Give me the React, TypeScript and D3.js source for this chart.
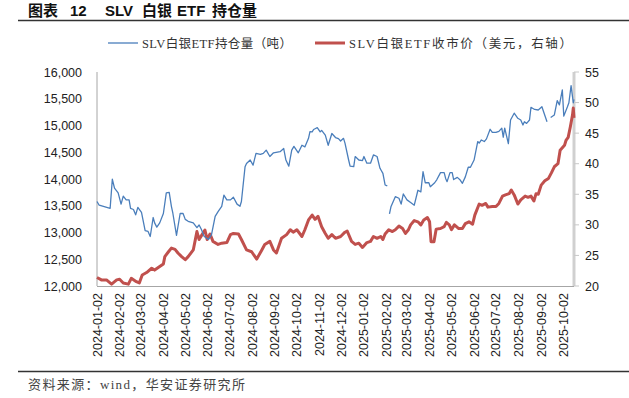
import React from "react";
import * as d3 from "d3";

const W = 629;
const H = 398;

// SLV holdings in tonnes (left axis); null = gap in the source data
const holdings: [string, number | null][] = [
  ["2024-01-02", 13580], ["2024-01-05", 13510], ["2024-01-20", 13450], ["2024-01-23", 13995],
  ["2024-01-26", 13830], ["2024-01-31", 13740], ["2024-02-04", 13530], ["2024-02-07", 13680],
  ["2024-02-11", 13610], ["2024-02-15", 13610], ["2024-02-17", 13450], ["2024-02-21", 13430],
  ["2024-02-24", 13330], ["2024-02-27", 13470], ["2024-03-03", 13375], ["2024-03-08", 13034],
  ["2024-03-12", 13020], ["2024-03-15", 12925], ["2024-03-19", 13280], ["2024-03-21", 13180],
  ["2024-03-24", 13100], ["2024-03-28", 13180], ["2024-04-02", 13355], ["2024-04-06", 13740],
  ["2024-04-10", 13750], ["2024-04-13", 13490], ["2024-04-15", 13360], ["2024-04-20", 12945],
  ["2024-04-25", 13355], ["2024-04-29", 13355], ["2024-05-02", 13245], ["2024-05-06", 13210],
  ["2024-05-13", 13180], ["2024-05-18", 13090], ["2024-05-21", 13140], ["2024-05-24", 13060],
  ["2024-05-28", 12925], ["2024-06-03", 12870], ["2024-06-07", 12960], ["2024-06-12", 13300],
  ["2024-06-16", 13390], ["2024-06-21", 13490], ["2024-06-24", 13700], ["2024-06-28", 13610],
  ["2024-07-03", 13610], ["2024-07-07", 13660], ["2024-07-12", 13530], ["2024-07-16", 13490],
  ["2024-07-18", 13580], ["2024-07-23", 14230], ["2024-07-25", 14290], ["2024-07-30", 14355],
  ["2024-08-03", 14260], ["2024-08-07", 14480], ["2024-08-13", 14460], ["2024-08-17", 14480],
  ["2024-08-21", 14540], ["2024-08-26", 14420], ["2024-08-31", 14490], ["2024-09-09", 14510],
  ["2024-09-14", 14570], ["2024-09-17", 14355], ["2024-09-21", 14240], ["2024-09-25", 14540],
  ["2024-09-28", 14610], ["2024-10-04", 14490], ["2024-10-09", 14630], ["2024-10-13", 14600],
  ["2024-10-18", 14760], ["2024-10-20", 14884], ["2024-10-23", 14880], ["2024-10-25", 14925],
  ["2024-10-27", 14940], ["2024-10-30", 14960], ["2024-11-03", 14880], ["2024-11-05", 14910],
  ["2024-11-10", 14820], ["2024-11-14", 14630], ["2024-11-19", 14850], ["2024-11-24", 14775],
  ["2024-11-28", 14755], ["2024-12-01", 14710], ["2024-12-05", 14760], ["2024-12-07", 14670],
  ["2024-12-12", 14355], ["2024-12-14", 14240], ["2024-12-19", 14230], ["2024-12-21", 14420],
  ["2024-12-26", 14355], ["2024-12-31", 14345], ["2025-01-02", 14420], ["2025-01-06", 14295],
  ["2025-01-11", 14295], ["2025-01-15", 14450], ["2025-01-20", 14420], ["2025-01-24", 14200],
  ["2025-01-28", 14105], ["2025-01-31", 13888], ["2025-02-03", 13870], ["2025-02-04", null],
  ["2025-02-06", 13346], ["2025-02-08", 13480], ["2025-02-14", 13670], ["2025-02-19", 13640],
  ["2025-02-22", 13530], ["2025-02-25", 13720], ["2025-03-02", 13610], ["2025-03-07", 13560],
  ["2025-03-12", 13510], ["2025-03-17", 13790], ["2025-03-21", 13760], ["2025-03-24", 14136],
  ["2025-03-27", 13930], ["2025-04-01", 13930], ["2025-04-03", 13855], ["2025-04-09", 13930],
  ["2025-04-12", 13990], ["2025-04-17", 14120], ["2025-04-22", 14120], ["2025-04-24", 14010],
  ["2025-04-26", 13950], ["2025-04-30", 14120], ["2025-05-03", 14120], ["2025-05-05", 13990],
  ["2025-05-10", 14030], ["2025-05-14", 13980], ["2025-05-17", 13920], ["2025-05-21", 14040],
  ["2025-05-25", 14220], ["2025-05-28", 14220], ["2025-06-02", 14355], ["2025-06-07", 14700],
  ["2025-06-09", 14670], ["2025-06-12", 14730], ["2025-06-16", 14700], ["2025-06-19", 14750],
  ["2025-06-24", 14930], ["2025-06-27", 14870], ["2025-07-02", 14870], ["2025-07-06", 14890],
  ["2025-07-10", 14950], ["2025-07-12", 14780], ["2025-07-14", 14950], ["2025-07-19", 14660],
  ["2025-07-22", 15103], ["2025-07-27", 15230], ["2025-08-01", 15135], ["2025-08-05", 15103],
  ["2025-08-08", 15010], ["2025-08-10", 15070], ["2025-08-13", 15040], ["2025-08-17", 15103],
  ["2025-08-19", 15340], ["2025-08-24", 15300], ["2025-08-29", 15290], ["2025-09-03", 15350],
  ["2025-09-06", 15230], ["2025-09-10", 15070], ["2025-09-12", null], ["2025-09-15", 15150],
  ["2025-09-20", 15195], ["2025-09-24", 15465], ["2025-09-27", 15385], ["2025-10-01", 15664],
  ["2025-10-03", 15175], ["2025-10-08", 15350], ["2025-10-10", 15425], ["2025-10-13", 15745],
  ["2025-10-16", 15425], ["2025-10-17", 15490],
];

// SLV close price in USD (right axis)
const prices: [string, number][] = [
  ["2024-01-02", 21.4], ["2024-01-08", 21.0], ["2024-01-15", 21.0], ["2024-01-22", 20.3],
  ["2024-01-29", 21.0], ["2024-02-02", 21.1], ["2024-02-07", 20.5], ["2024-02-14", 20.3],
  ["2024-02-18", 21.25], ["2024-02-25", 20.7], ["2024-02-29", 20.5], ["2024-03-04", 21.8],
  ["2024-03-10", 22.2], ["2024-03-17", 22.9], ["2024-03-21", 22.6], ["2024-03-27", 23.1],
  ["2024-04-02", 23.6], ["2024-04-04", 24.8], ["2024-04-09", 25.6], ["2024-04-13", 26.2],
  ["2024-04-18", 26.0], ["2024-04-22", 25.4], ["2024-04-27", 24.8], ["2024-05-02", 24.3],
  ["2024-05-06", 24.8], ["2024-05-13", 25.9], ["2024-05-18", 28.9], ["2024-05-21", 27.6],
  ["2024-05-24", 28.2], ["2024-05-29", 29.15], ["2024-06-01", 27.6], ["2024-06-05", 28.5],
  ["2024-06-09", 27.3], ["2024-06-16", 26.8], ["2024-06-21", 27.0], ["2024-06-28", 27.1],
  ["2024-07-03", 28.4], ["2024-07-07", 28.6], ["2024-07-14", 28.5], ["2024-07-18", 27.6],
  ["2024-07-25", 25.9], ["2024-08-01", 25.6], ["2024-08-08", 24.4], ["2024-08-15", 25.9],
  ["2024-08-19", 26.8], ["2024-08-26", 27.3], ["2024-08-31", 25.9], ["2024-09-04", 25.4],
  ["2024-09-11", 27.8], ["2024-09-18", 28.4], ["2024-09-23", 29.2], ["2024-09-27", 28.8],
  ["2024-10-02", 29.2], ["2024-10-09", 28.1], ["2024-10-13", 29.2], ["2024-10-18", 30.8],
  ["2024-10-23", 31.6], ["2024-10-27", 30.9], ["2024-10-31", 31.4], ["2024-11-05", 29.7],
  ["2024-11-10", 28.6], ["2024-11-14", 27.8], ["2024-11-19", 28.4], ["2024-11-24", 27.8],
  ["2024-12-01", 28.1], ["2024-12-07", 28.8], ["2024-12-10", 29.0], ["2024-12-16", 27.3],
  ["2024-12-21", 26.8], ["2024-12-26", 27.0], ["2024-12-31", 26.3], ["2025-01-06", 27.1],
  ["2025-01-11", 27.3], ["2025-01-15", 28.1], ["2025-01-20", 27.8], ["2025-01-25", 28.1],
  ["2025-01-28", 27.6], ["2025-01-31", 28.5], ["2025-02-05", 29.2], ["2025-02-10", 28.9],
  ["2025-02-14", 29.2], ["2025-02-19", 29.8], ["2025-02-24", 29.4], ["2025-02-28", 28.6],
  ["2025-03-04", 29.2], ["2025-03-07", 30.0], ["2025-03-12", 30.7], ["2025-03-17", 30.5],
  ["2025-03-21", 30.0], ["2025-03-25", 30.8], ["2025-03-30", 31.2], ["2025-04-02", 30.5],
  ["2025-04-04", 27.25], ["2025-04-08", 27.25], ["2025-04-11", 29.3], ["2025-04-17", 29.4],
  ["2025-04-22", 29.7], ["2025-04-25", 30.4], ["2025-04-29", 30.0], ["2025-05-02", 29.2],
  ["2025-05-06", 30.0], ["2025-05-12", 29.4], ["2025-05-17", 29.4], ["2025-05-21", 30.2],
  ["2025-05-26", 30.5], ["2025-05-31", 30.1], ["2025-06-03", 31.6], ["2025-06-09", 33.4],
  ["2025-06-13", 33.2], ["2025-06-18", 33.5], ["2025-06-21", 32.9], ["2025-06-27", 33.0],
  ["2025-07-02", 33.0], ["2025-07-06", 33.5], ["2025-07-11", 34.7], ["2025-07-15", 34.9],
  ["2025-07-20", 35.1], ["2025-07-23", 35.7], ["2025-07-27", 34.9], ["2025-08-01", 33.4],
  ["2025-08-05", 34.1], ["2025-08-11", 34.7], ["2025-08-15", 34.5], ["2025-08-19", 34.7],
  ["2025-08-23", 33.9], ["2025-08-26", 35.1], ["2025-08-29", 35.0], ["2025-09-02", 36.5],
  ["2025-09-07", 37.2], ["2025-09-12", 37.6], ["2025-09-16", 38.5], ["2025-09-20", 39.5],
  ["2025-09-25", 40.0], ["2025-09-28", 42.2], ["2025-10-04", 43.0], ["2025-10-06", 43.8],
  ["2025-10-09", 44.3], ["2025-10-12", 46.05], ["2025-10-15", 48.0], ["2025-10-16", 49.1],
  ["2025-10-17", 47.5],
];

const tickDates = [
  "2024-01-02", "2024-02-02", "2024-03-02", "2024-04-02", "2024-05-02", "2024-06-02",
  "2024-07-02", "2024-08-02", "2024-09-02", "2024-10-02", "2024-11-02", "2024-12-02",
  "2025-01-02", "2025-02-02", "2025-03-02", "2025-04-02", "2025-05-02", "2025-06-02",
  "2025-07-02", "2025-08-02", "2025-09-02", "2025-10-02",
];
const leftTicks = [12000, 12500, 13000, 13500, 14000, 14500, 15000, 15500, 16000];
const rightTicks = [20, 25, 30, 35, 40, 45, 50, 55];

const BLUE = "#4a7ebb";
const RED = "#c0504d";
const SANS = "'Liberation Sans', Arial, 'Noto Sans CJK SC', sans-serif";
const SERIF = "'Liberation Serif', 'Noto Sans CJK SC', serif";
const CJK = "'Noto Sans CJK SC', sans-serif";

const parse = d3.timeParse("%Y-%m-%d");

export default function App() {
  const left = 97, right = 574, top = 72, bottom = 286;

  const x = d3
    .scaleTime()
    .domain([parse("2024-01-02")!, parse("2025-10-17")!])
    .range([left, right]);
  const yL = d3.scaleLinear().domain([12000, 16000]).range([bottom, top]);
  const yR = d3.scaleLinear().domain([20, 55]).range([bottom, top]);

  const holdLine = d3
    .line<[string, number | null]>()
    .defined((d) => d[1] !== null)
    .x((d) => x(parse(d[0])!))
    .y((d) => yL(d[1] as number));
  const priceLine = d3
    .line<[string, number]>()
    .x((d) => x(parse(d[0])!))
    .y((d) => yR(d[1]));

  const fmt = d3.format(",");

  return (
    <svg
      width={W}
      height={H}
      style={{ position: "absolute", left: 0, top: 0, background: "#fff" }}
    >
      {/* title */}
      <text y={16} fontFamily={SANS} fontWeight="bold" fontSize={15} fill="#111">
        <tspan x={28} fontFamily={CJK}>图表</tspan>
        <tspan x={70}>12</tspan>
        <tspan x={105}>SLV</tspan>
        <tspan x={142} fontFamily={CJK}>白银</tspan>
        <tspan x={177}>ETF</tspan>
        <tspan x={212} fontFamily={CJK}>持仓量</tspan>
      </text>
      <line x1={18} x2={W} y1={20.5} y2={20.5} stroke="#333" strokeWidth={1.3} />

      {/* legend */}
      <line x1={108} x2={138} y1={43} y2={43} stroke={BLUE} strokeWidth={1.3} />
      <text x={142} y={47.5} fontFamily={SERIF} fontSize={12.5} fill="#333" textLength={150} lengthAdjust="spacing">
        SLV白银ETF持仓量（吨）
      </text>
      <line x1={315} x2={345} y1={43} y2={43} stroke={RED} strokeWidth={3} />
      <text x={349} y={47.5} fontFamily={SERIF} fontSize={12.5} fill="#333" textLength={223} lengthAdjust="spacing">
        SLV白银ETF收市价（美元，右轴）
      </text>

      {/* axes */}
      <line x1={left} x2={left} y1={top} y2={bottom} stroke="#a6a6a6" strokeWidth={1} />
      <line x1={left} x2={right} y1={bottom + 0.5} y2={bottom + 0.5} stroke="#a6a6a6" strokeWidth={1} />
      <line x1={right} x2={right} y1={top} y2={bottom} stroke="#d0d0d0" strokeWidth={3} />
      {rightTicks.map((t) => (
        <line key={t} x1={right} x2={right + 5} y1={yR(t)} y2={yR(t)} stroke="#c8c8c8" strokeWidth={1} />
      ))}

      {leftTicks.map((t) => (
        <text key={t} x={82} y={yL(t) + 4.5} textAnchor="end" fontFamily={SANS} fontSize={12.5} fill="#222">
          {fmt(t)}
        </text>
      ))}
      {rightTicks.map((t) => (
        <text key={t} x={585} y={yR(t) + 4.5} fontFamily={SANS} fontSize={12.5} fill="#222">
          {t}
        </text>
      ))}
      {tickDates.map((t) => {
        const px = x(parse(t)!);
        return (
          <text
            key={t}
            transform={`translate(${px + 4.5},293) rotate(-90)`}
            textAnchor="end"
            fontFamily={SANS}
            fontSize={12.5}
            fill="#222"
          >
            {t}
          </text>
        );
      })}

      {/* series */}
      <path d={priceLine(prices) ?? ""} fill="none" stroke={RED} strokeWidth={3} strokeLinejoin="round" />
      <path d={holdLine(holdings) ?? ""} fill="none" stroke={BLUE} strokeWidth={1.3} strokeLinejoin="round" />

      {/* footer */}
      <line x1={18} x2={W} y1={371.5} y2={371.5} stroke="#333" strokeWidth={1.3} />
      <text x={28} y={389} fontFamily={SERIF} fontSize={13} fill="#444" textLength={217} lengthAdjust="spacing">
        资料来源：wind，华安证券研究所
      </text>
    </svg>
  );
}
